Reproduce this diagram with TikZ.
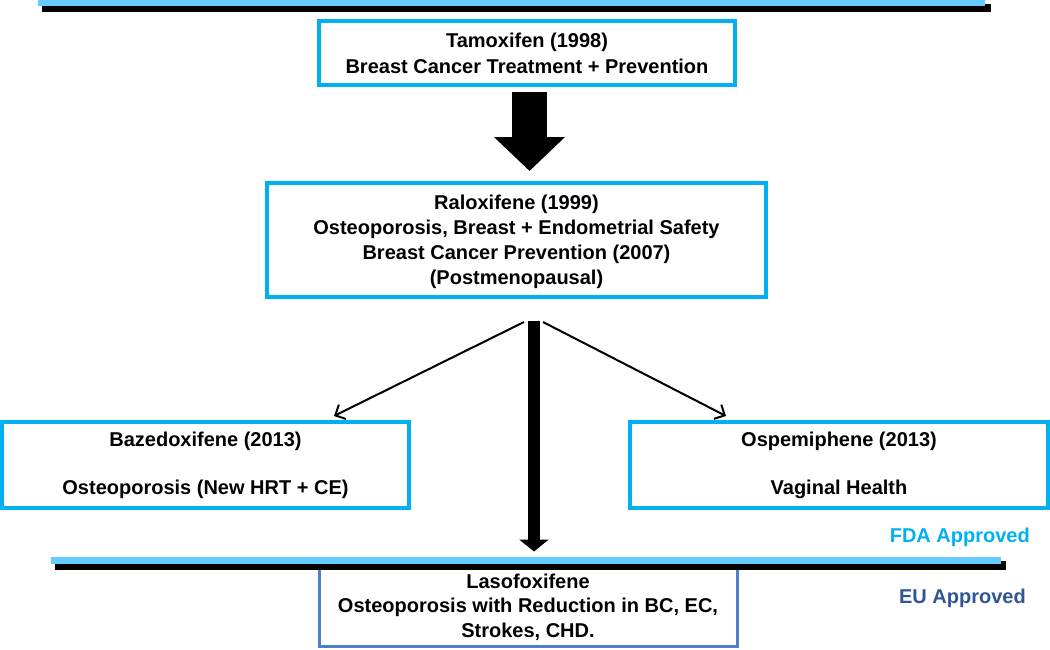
\documentclass[tikz,border=0pt]{standalone}
\usepackage{fontspec}
\setmainfont{Liberation Sans}
\usetikzlibrary{arrows.meta,calc}
\definecolor{boxcyan}{RGB}{0,176,240}
\definecolor{barblue}{RGB}{102,204,255}
\definecolor{lasblue}{RGB}{79,129,200}
\definecolor{eublue}{RGB}{46,85,150}
\tikzset{
  drugbox/.style={draw=boxcyan, line width=4pt, fill=white, align=center, inner sep=0pt,
    font=\fontsize{20}{25}\selectfont\bfseries},
  lasbox/.style={draw=lasblue, line width=3pt, fill=white, align=center, inner sep=0pt,
    font=\fontsize{20}{24.5}\selectfont\bfseries},
  bigarrow/.style={line width=35pt, -{Triangle[length=34pt,width=69pt]}},
  mainarrow/.style={line width=12pt, -{Triangle[length=12pt,width=29pt]}},
  sidearrow/.style={line width=2pt, -{Straight Barb[length=8pt,width=16pt]}},
  approved/.style={font=\fontsize{20}{24}\selectfont\bfseries, inner sep=0pt}
}
\begin{document}
\begin{tikzpicture}[x=1pt,y=-1pt]
\useasboundingbox (0,0) rectangle (1050,649);
% top bars
\fill[black] (42,4) rectangle (991,12);
\fill[barblue] (38,-2) rectangle (985,6);
% boxes
\node[drugbox, minimum width=416pt, minimum height=64pt] (tam) at (527,53)
  {Tamoxifen (1998)\\[1pt]Breast Cancer Treatment + Prevention};
\node[drugbox, minimum width=499pt, minimum height=114pt] (ral) at (516.5,240)
  {\rule{0pt}{19pt}Raloxifene (1999)\\Osteoporosis, Breast + Endometrial Safety\\Breast Cancer Prevention (2007)\\(Postmenopausal)};
\node[drugbox, minimum width=407pt, minimum height=86pt] (baz) at (205.5,465)
  {Bazedoxifene (2013)\\[23pt]Osteoporosis (New HRT + CE)};
\node[drugbox, minimum width=418pt, minimum height=86pt] (osp) at (839,465)
  {Ospemiphene (2013)\\[23pt]Vaginal Health};
\node[lasbox, minimum width=418pt, minimum height=86pt] (las) at (528,603)
  {\rule{0pt}{23pt}Lasofoxifene\\Osteoporosis with Reduction in BC, EC,\\Strokes, CHD.};
% bottom bars
\fill[black] (55,561) rectangle (1006,570);
\fill[barblue] (51,557) rectangle (1001,564);
% labels
\node[approved, text=boxcyan, anchor=base east] (fda) at (1030,542) {FDA Approved};
\node[approved, text=eublue, anchor=base east] (eu) at (1026,603) {EU Approved};
% connectors
\draw[bigarrow] ([yshift=-5pt]tam.south -| 529.5,0) -- ([yshift=10pt]ral.north -| 529.5,0);
\coordinate (fork) at (534,321);
\coordinate (forkl) at (524,322);
\coordinate (forkr) at (543,322);
\draw[mainarrow] (fork) -- ($(las.north -| fork)+(0,-7)$);
\draw[sidearrow] (forkl) -- ($(baz.north east)+(-77,-4)$);
\draw[sidearrow] (forkr) -- ($(osp.north west)+(98,-4)$);
\end{tikzpicture}
\end{document}
